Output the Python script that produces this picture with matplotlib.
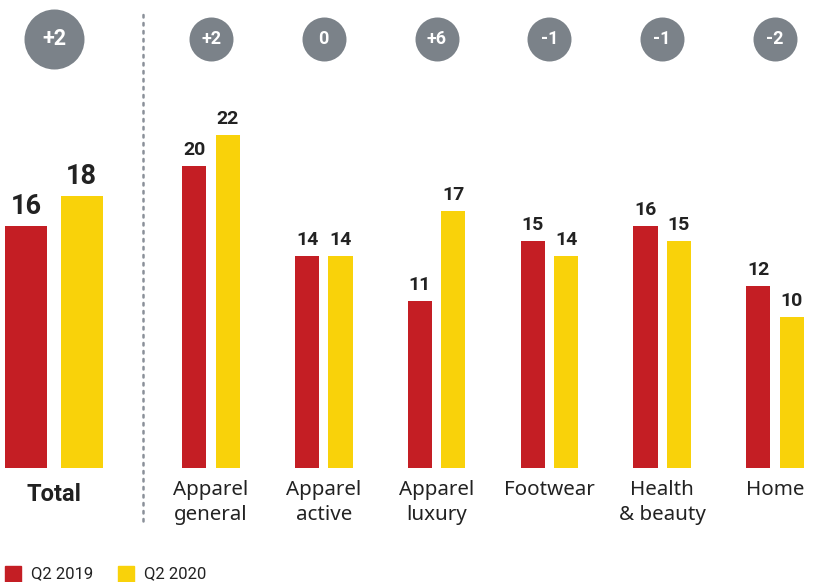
import matplotlib
matplotlib.use("Agg")
import matplotlib.pyplot as plt
from matplotlib.patches import Rectangle

categories = ["Apparel\ngeneral", "Apparel\nactive", "Apparel\nluxury", "Footwear", "Health\n& beauty", "Home"]
q2_2019 = [20, 14, 11, 15, 16, 12]
q2_2020 = [22, 14, 17, 14, 15, 10]
changes = ["+2", "0", "+6", "-1", "-1", "-2"]
total_label = "Total"
total_2019 = 16
total_2020 = 18
total_change = "+2"
series_names = ["Q2 2019", "Q2 2020"]

RED = "#C41E24"
YEL = "#F9D20A"
GRAY = "#7B8289"
TXT = "#222222"
FONT = ["Roboto", "DejaVu Sans"]
LABFONT = ["Noto Sans", "DejaVu Sans"]
plt.rcParams["font.family"] = FONT

W, H = 813, 582
fig = plt.figure(figsize=(W / 100, H / 100), dpi=100)
base_px = 467.5
top_px = 14
ax = fig.add_axes([0, (H - base_px) / H, 1, (base_px - top_px) / H])
ymax = (base_px - top_px) / 15.1
spacing = 112.8
ax.set_xlim(1 - 211 / spacing, 1 + (W - 211) / spacing)
ax.set_ylim(0, ymax)
ax.axis("off")

cat_x = list(range(1, len(categories) + 1))
bw = 0.213
off = 0.148
for i, x in enumerate(cat_x):
    ax.bar(x - off, q2_2019[i], width=bw, color=RED)
    ax.bar(x + off, q2_2020[i], width=bw, color=YEL)
    ax.annotate(str(q2_2019[i]), (x - off, q2_2019[i]), xytext=(0, 5), textcoords="offset points",
                ha="center", va="bottom", fontsize=14, fontweight="bold", color=TXT)
    ax.annotate(str(q2_2020[i]), (x + off, q2_2020[i]), xytext=(0, 5), textcoords="offset points",
                ha="center", va="bottom", fontsize=14, fontweight="bold", color=TXT)
    ax.annotate(categories[i], (x, 0), xytext=(0, -9), textcoords="offset points",
                ha="center", va="top", fontsize=14.8, color=TXT, linespacing=1.36,
                family=LABFONT, annotation_clip=False)
    ax.scatter([x], [28.4], s=(22 * 2 * 0.72) ** 2, color=GRAY, clip_on=False, zorder=3, linewidths=0)
    ax.text(x, 28.4, changes[i], ha="center", va="center", fontsize=13, fontweight="bold",
            color="white", zorder=4)

tx = 1 + (54 - 211) / spacing
tbw = 0.372
toff = 0.244
ax.bar(tx - toff, total_2019, width=tbw, color=RED)
ax.bar(tx + toff, total_2020, width=tbw, color=YEL)
ax.annotate(str(total_2019), (tx - toff, total_2019), xytext=(0, 4), textcoords="offset points",
            ha="center", va="bottom", fontsize=19.5, fontweight="bold", color=TXT)
ax.annotate(str(total_2020), (tx + toff, total_2020), xytext=(0, 4), textcoords="offset points",
            ha="center", va="bottom", fontsize=19.5, fontweight="bold", color=TXT)
ax.annotate(total_label, (tx, 0), xytext=(0, -11), textcoords="offset points",
            ha="center", va="top", fontsize=17, fontweight="bold", color=TXT, annotation_clip=False)
ax.scatter([tx], [28.4], s=(30 * 2 * 0.72) ** 2, color=GRAY, clip_on=False, zorder=3, linewidths=0)
ax.text(tx, 28.4, total_change, ha="center", va="center", fontsize=15.5, fontweight="bold",
        color="white", zorder=4)

# dotted separator
sep_x = 1 + (143 - 211) / spacing
ax.plot([sep_x, sep_x], [(base_px - 521) / 15.1, (base_px - 10) / 15.1], color="#8A9099",
        linestyle=(0, (1, 2.2)), linewidth=1.8, clip_on=False, solid_capstyle="round",
        dash_capstyle="round")

# legend
for j, (name, col) in enumerate(zip(series_names, [RED, YEL])):
    x0 = 5 + j * 113
    fig.patches.append(Rectangle((x0 / W, 1 - 582 / H), 16 / W, 16 / H, transform=fig.transFigure,
                                 color=col))
    fig.text((x0 + 26) / W, 1 - 574 / H, name, ha="left", va="center", fontsize=12, color=TXT)

fig.savefig("out.png", dpi=100)
